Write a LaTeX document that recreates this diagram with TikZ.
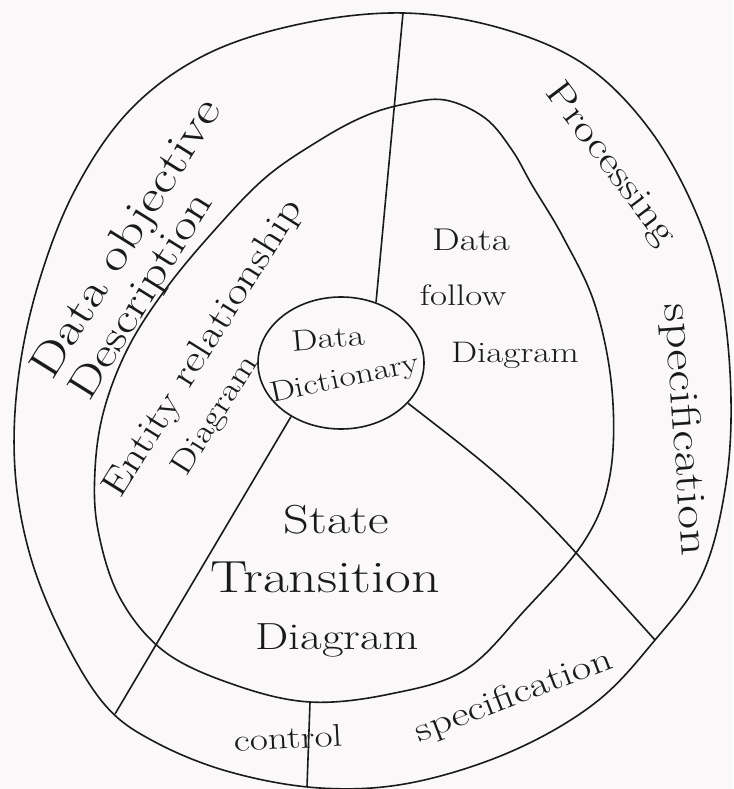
\documentclass[tikz,border=0pt]{standalone}
\usepackage{fontspec}
\usepackage{tikz}
\usetikzlibrary{shapes.geometric}
\definecolor{ink}{HTML}{1A1A1A}
\definecolor{paper}{HTML}{FAF8F8}
\tikzset{lbl/.style={font=\fontsize{#1}{#1}\selectfont,inner sep=0pt,text=ink,xscale=1.12,yscale=0.9}}

\begin{document}
\begin{tikzpicture}[x=1pt,y=-1pt,line width=1.6pt]
\fill[paper] (0,0) rectangle (733,789);
\useasboundingbox (0,0) rectangle (733,789);
% outer ring
\draw[ink] plot[smooth cycle,tension=0.6] coordinates {(403,13) (500,28) (585,65) (650,130) (697,215) (722,300) (731,400) (725,490) (702,575) (655,640) (595,703) (510,752) (410,783) (320,788) (230,772) (155,742) (105,705) (62,635) (30,555) (15,470) (18,380) (38,285) (75,190) (130,110) (205,55) (300,24)};
% inner ring
\draw[ink] plot[smooth cycle,tension=0.6] coordinates {(405,104) (445,100) (485,118) (512,150) (532,185) (563,237) (595,305) (612,390) (610,475) (585,540) (525,610) (465,670) (390,694) (310,702) (235,685) (165,652) (120,598) (98,530) (95,470) (104,410) (128,348) (165,290) (212,233) (265,178) (320,140) (365,116)};
\node[ellipse,draw=ink,minimum width=166pt,minimum height=132pt,inner sep=0pt] (dict) at (341,363) {};
\coordinate (vtop) at (403,13);
\coordinate (ldiv) at (115,714);
\coordinate (rdiv) at (655,640);
\coordinate (cin) at (310,702);
\coordinate (cout) at (307,787);
\draw[ink] (dict.60) -- (vtop);
\draw[ink] (dict.227) -- (ldiv);
\draw[ink] (dict.-31) .. controls (520,490) .. (rdiv);
\draw[ink] (cin) -- (cout);
\foreach \t/\x/\y/\r/\s [count=\i] in {Data objective/128/240/58/49,Description/143/297/58/46,Entity relationship/204/349/58/41,Diagram/216/416/58/35,Processing/610/165/-53/41,specification/684/430/-86/46,Data/471/240/0/35,follow/463/295/0/33,Diagram/515/355/0/33,Data/328/338/5/33,Dictionary/345/380/12/32,State/336/520/0/45,Transition/325/577/0/50,Diagram/337/640/0/42,control/288/738/3/35,specification/514/697/21/38}
  \node[rotate=\r,lbl=\s] (lab\i) at (\x,\y) {\t};
\end{tikzpicture}
\end{document}
